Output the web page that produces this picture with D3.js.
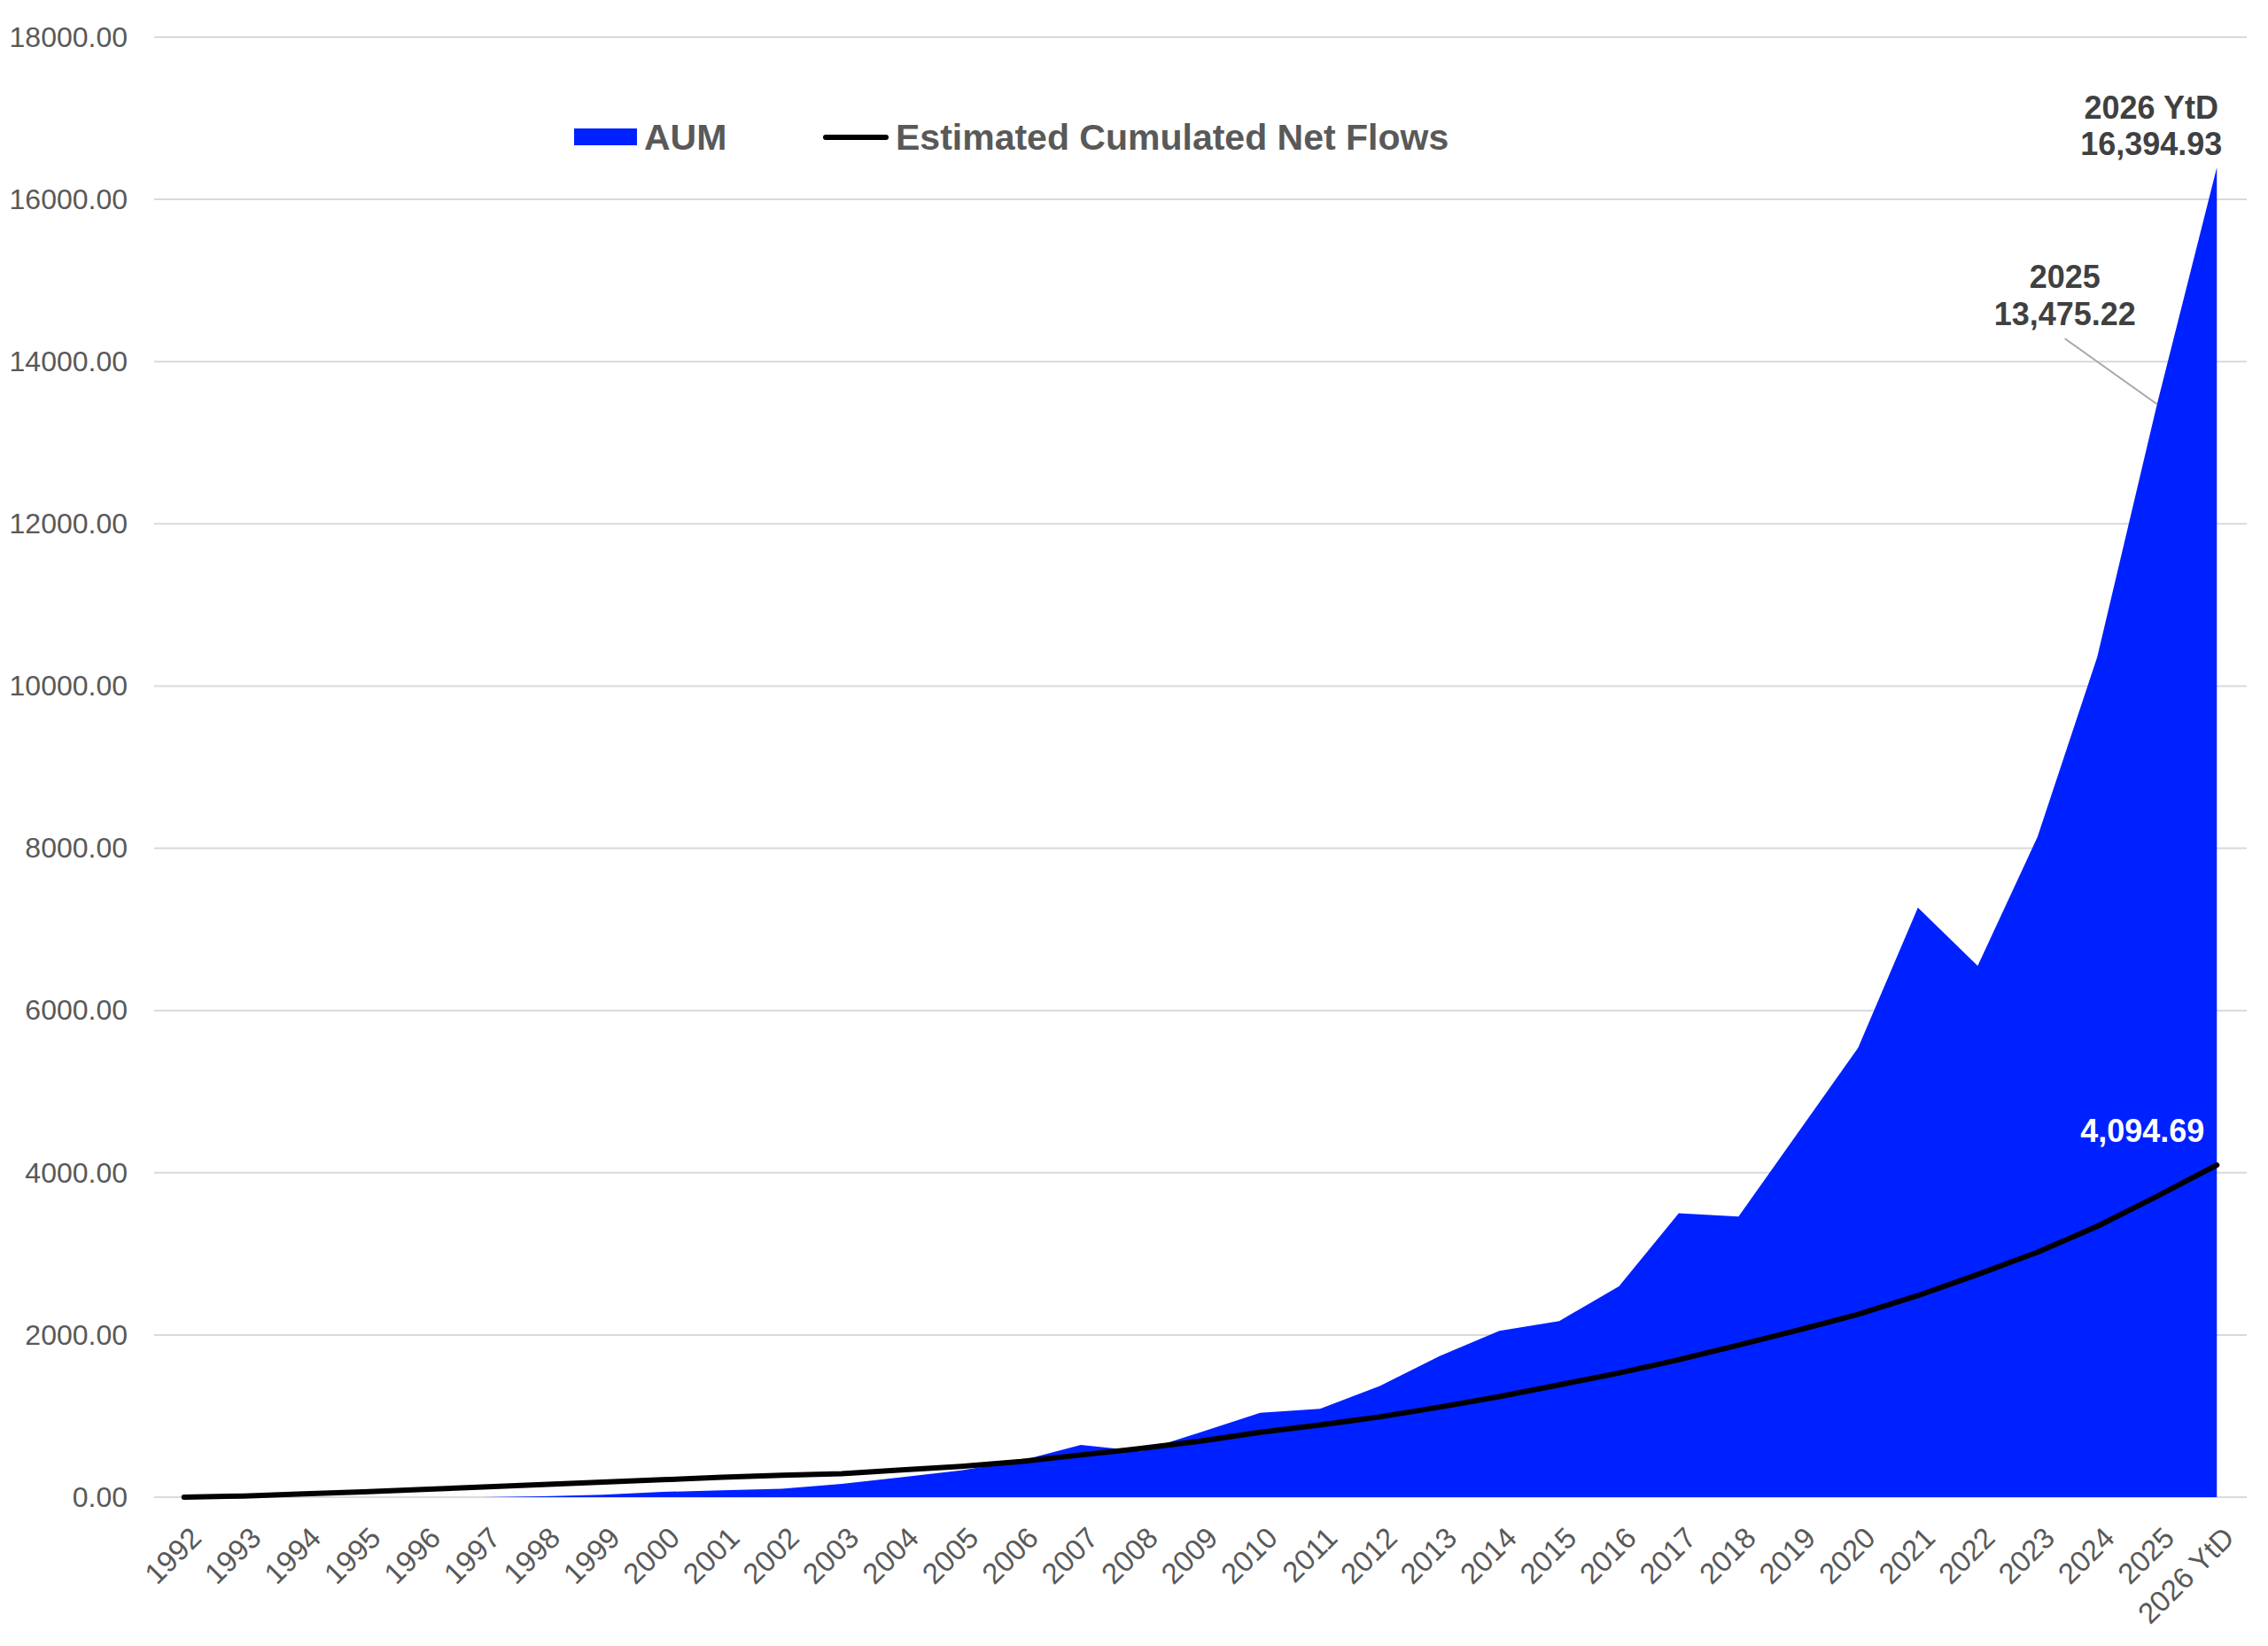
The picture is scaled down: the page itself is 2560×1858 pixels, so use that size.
<!DOCTYPE html>
<html>
<head>
<meta charset="utf-8">
<script src="https://cdn.jsdelivr.net/npm/d3@7"></script>
<style>
  html, body { margin: 0; padding: 0; background: #fff; }
  svg { display: block; font-family: "Liberation Sans", Arial, sans-serif; }
</style>
</head>
<body>
<div id="chart"></div>
<script>
const years = ["1992", "1993", "1994", "1995", "1996", "1997", "1998", "1999", "2000", "2001",
  "2002", "2003", "2004", "2005", "2006", "2007", "2008", "2009", "2010", "2011", "2012",
  "2013", "2014", "2015", "2016", "2017", "2018", "2019", "2020", "2021", "2022", "2023",
  "2024", "2025", "2026 YtD"];

const aum = [0, 0, 0, 0, 0, 0, 10, 30, 65, 85, 105, 165, 245, 330, 450, 645, 565, 800,
  1040, 1090, 1370, 1740, 2050, 2170, 2600, 3500, 3460, 4500, 5540, 7270, 6550, 8140,
  10360, 13475.22, 16394.93];

const netFlows = [0, 15, 40, 65, 95, 125, 155, 185, 215, 245, 270, 290, 335, 380, 440, 520,
  600, 690, 800, 890, 990, 1110, 1240, 1385, 1530, 1695, 1875, 2060, 2255, 2485, 2745,
  3020, 3340, 3710, 4094.69];

const yTicks = [0, 2000, 4000, 6000, 8000, 10000, 12000, 14000, 16000, 18000];

const seriesNames = ["AUM", "Estimated Cumulated Net Flows"];

const width = 2560;
const height = 1858;
const margin = { top: 42, right: 24, bottom: 168, left: 174 };

const data = years.map((y, i) => ({ year: y, aum: aum[i], flows: netFlows[i] }));

const svg = d3.select("#chart")
  .append("svg")
  .attr("width", width)
  .attr("height", height)
  .attr("viewBox", `0 0 ${width} ${height}`);

const x = d3.scalePoint()
  .domain(years)
  .range([margin.left, width - margin.right])
  .padding(0.5);

const y = d3.scaleLinear()
  .domain([0, 18000])
  .range([height - margin.bottom, margin.top]);

// horizontal gridlines
svg.append("g")
  .selectAll("line")
  .data(yTicks)
  .join("line")
  .attr("x1", margin.left)
  .attr("x2", width - margin.right)
  .attr("y1", d => y(d))
  .attr("y2", d => y(d))
  .attr("stroke", "#d9d9d9")
  .attr("stroke-width", 2);

// y axis labels
const yAxis = d3.axisLeft(y)
  .tickValues(yTicks)
  .tickFormat(d3.format(".2f"))
  .tickSize(0)
  .tickPadding(30);

svg.append("g")
  .attr("transform", `translate(${margin.left},0)`)
  .call(yAxis)
  .call(g => g.select(".domain").remove())
  .selectAll(".tick text")
  .attr("fill", "#595959")
  .attr("font-size", "32px")
  .attr("font-family", "Liberation Sans, Arial, sans-serif");

// AUM area
const area = d3.area()
  .x(d => x(d.year))
  .y0(y(0))
  .y1(d => y(d.aum));

svg.append("path")
  .datum(data)
  .attr("fill", "#0021ff")
  .attr("d", area);

// net flows line
const line = d3.line()
  .x(d => x(d.year))
  .y(d => y(d.flows));

svg.append("path")
  .datum(data)
  .attr("fill", "none")
  .attr("stroke", "#000")
  .attr("stroke-width", 6)
  .attr("stroke-linejoin", "round")
  .attr("stroke-linecap", "round")
  .attr("d", line);

// x axis labels, rotated
const xAxis = d3.axisBottom(x).tickSize(0).tickPadding(0);

svg.append("g")
  .attr("transform", `translate(0,${y(0)})`)
  .call(xAxis)
  .call(g => g.select(".domain").remove())
  .selectAll(".tick text")
  .attr("fill", "#595959")
  .attr("font-size", "33px")
  .attr("font-family", "Liberation Sans, Arial, sans-serif")
  .attr("text-anchor", "end")
  .attr("dy", null)
  .attr("y", 0)
  .attr("transform", "translate(21,48) rotate(-45)");

// legend
const legend = svg.append("g").attr("font-weight", "bold").attr("font-size", "41px").attr("fill", "#595959");

legend.append("rect")
  .attr("x", 648)
  .attr("y", 145)
  .attr("width", 71)
  .attr("height", 19)
  .attr("fill", "#0021ff");

legend.append("text")
  .attr("x", 727)
  .attr("y", 169)
  .text(seriesNames[0]);

legend.append("line")
  .attr("x1", 932)
  .attr("x2", 1000)
  .attr("y1", 155)
  .attr("y2", 155)
  .attr("stroke", "#000")
  .attr("stroke-width", 6)
  .attr("stroke-linecap", "round");

legend.append("text")
  .attr("x", 1011)
  .attr("y", 169)
  .text(seriesNames[1]);

// annotations
const fmt = d3.format(",.2f");
const last = data[data.length - 1];
const prev = data[data.length - 2];

const note = svg.append("g")
  .attr("font-weight", "bold")
  .attr("font-size", "36px")
  .attr("fill", "#404040")
  .attr("text-anchor", "middle");

note.append("text")
  .attr("x", x(last.year) - 74)
  .attr("y", y(last.aum) - 55)
  .text(last.year);

note.append("text")
  .attr("x", x(last.year) - 74)
  .attr("y", y(last.aum) - 14)
  .text(fmt(last.aum));

note.append("text")
  .attr("x", x(prev.year) - 104)
  .attr("y", y(prev.aum) - 131)
  .text(prev.year);

note.append("text")
  .attr("x", x(prev.year) - 104)
  .attr("y", y(prev.aum) - 89)
  .text(fmt(prev.aum));

// leader line to 2025 point
svg.append("line")
  .attr("x1", x(prev.year) - 104)
  .attr("y1", y(prev.aum) - 74)
  .attr("x2", x(prev.year))
  .attr("y2", y(prev.aum))
  .attr("stroke", "#a6a6a6")
  .attr("stroke-width", 2);

// flows end label
svg.append("text")
  .attr("x", x(last.year) - 84)
  .attr("y", y(last.flows) - 26)
  .attr("text-anchor", "middle")
  .attr("font-weight", "bold")
  .attr("font-size", "36px")
  .attr("fill", "#fff")
  .text(fmt(last.flows));
</script>
</body>
</html>
